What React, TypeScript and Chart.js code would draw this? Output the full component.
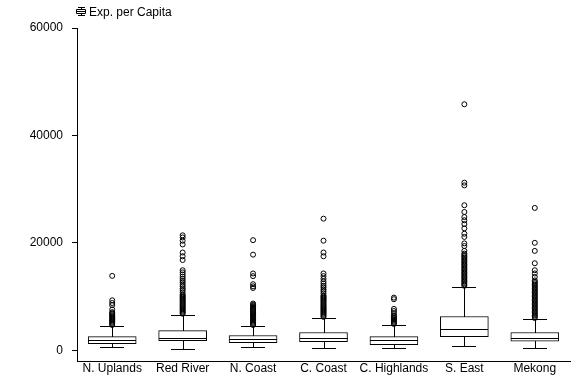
import React, { useEffect, useRef } from 'react';
import { Chart, registerables } from 'chart.js';
Chart.register(...registerables);

const categories = ['N. Uplands', 'Red River', 'N. Coast', 'C. Coast', 'C. Highlands', 'S. East', 'Mekong'];
const whiskerLow = [560, 300, 560, 370, 370, 745, 370];
const q1 = [1240, 1800, 1430, 1610, 1060, 2550, 1680];
const median = [1860, 2360, 2180, 2240, 1990, 4040, 2240];
const q3 = [2550, 3670, 2740, 3300, 2550, 6280, 3300];
const whiskerHigh = [4600, 6650, 4600, 6090, 4780, 11870, 5900];

const outNUplands = [4700, 4900, 5100, 5300, 5500, 5700, 5900, 6100, 6300, 6500, 6700, 6900, 7100, 7600, 8400, 8800, 9300, 13850];
const outRedRiver = [6800, 7000, 7200, 7400, 7600, 7800, 8000, 8200, 8400, 8600, 8800, 9000, 9200, 9400, 9600, 9800, 10000, 10200, 10400, 10800, 11200, 11500, 11900, 12200, 12600, 12900, 13300, 13700, 14100, 14500, 14900, 16800, 17500, 18200, 19700, 20400, 21000, 21400];
const outNCoast = [4700, 4900, 5100, 5300, 5500, 5700, 5900, 6100, 6300, 6500, 6700, 6900, 7100, 7300, 7500, 7700, 7900, 8100, 8300, 8500, 8700, 11600, 11900, 12300, 13800, 14300, 17800, 20500];
const outCCoast = [6200, 6400, 6600, 6800, 7000, 7200, 7400, 7600, 7800, 8000, 8200, 8400, 8600, 8800, 9000, 9200, 9400, 9600, 9800, 10000, 10200, 10600, 11000, 11300, 11700, 12000, 12400, 12800, 13300, 13800, 14300, 17500, 18200, 20400, 24500];
const outCHighlands = [4900, 5100, 5300, 5500, 5700, 5900, 6100, 6300, 6500, 6900, 7300, 7700, 9500, 9800];
const outSEast = [12000, 12250, 12500, 12750, 13000, 13250, 13500, 13750, 14000, 14250, 14500, 14750, 15000, 15250, 15500, 15750, 16000, 16250, 16500, 16750, 17000, 17250, 17500, 17750, 18000, 18500, 19400, 19900, 21100, 21700, 22700, 23500, 24200, 24800, 25750, 27000, 30700, 31200, 45800];
const outMekong = [6000, 6250, 6500, 6750, 7000, 7250, 7500, 7750, 8000, 8250, 8500, 8750, 9000, 9250, 9500, 9750, 10000, 10250, 10500, 10750, 11000, 11250, 11500, 11750, 12000, 12250, 12500, 12750, 13000, 13650, 14300, 14900, 16200, 18500, 20000, 26500];
const outliers = [outNUplands, outRedRiver, outNCoast, outCCoast, outCHighlands, outSEast, outMekong];

const yTicks = [0, 20000, 40000, 60000];
const legendLabel = 'Exp. per Capita';

const FONT = "'Liberation Sans', Arial, sans-serif";

const boxPlugin = {
  id: 'boxExtras',
  afterDatasetsDraw(chart: any) {
    const ctx = chart.ctx;
    const xs = chart.scales.x;
    const ys = chart.scales.y;
    const al = (v: number) => Math.round(v) + 0.5;
    ctx.save();
    ctx.strokeStyle = '#000';
    ctx.lineWidth = 1;
    const half = 24;
    const capHalf = 12;
    categories.forEach((_, i) => {
      const cx = Math.round(xs.getPixelForValue(i));
      const yMed = al(ys.getPixelForValue(median[i]));
      const yLo = al(ys.getPixelForValue(whiskerLow[i]));
      const yHi = al(ys.getPixelForValue(whiskerHigh[i]));
      const yQ1 = ys.getPixelForValue(q1[i]);
      const yQ3 = ys.getPixelForValue(q3[i]);
      ctx.beginPath();
      ctx.moveTo(cx - half, yMed);
      ctx.lineTo(cx + half, yMed);
      ctx.moveTo(cx + 0.5, Math.round(yQ3));
      ctx.lineTo(cx + 0.5, yHi);
      ctx.moveTo(cx + 0.5, Math.round(yQ1));
      ctx.lineTo(cx + 0.5, yLo);
      ctx.moveTo(cx - capHalf, yHi);
      ctx.lineTo(cx + capHalf, yHi);
      ctx.moveTo(cx - capHalf, yLo);
      ctx.lineTo(cx + capHalf, yLo);
      ctx.stroke();
    });
    ctx.restore();
  },
  afterDraw(chart: any) {
    const ctx = chart.ctx;
    ctx.save();
    ctx.strokeStyle = '#000';
    ctx.lineWidth = 1;
    ctx.beginPath();
    ctx.moveTo(78, 7.5); ctx.lineTo(85, 7.5);
    ctx.moveTo(81.5, 7.5); ctx.lineTo(81.5, 9.5);
    ctx.rect(76.5, 9.5, 9, 4);
    ctx.moveTo(76.5, 11.5); ctx.lineTo(85.5, 11.5);
    ctx.moveTo(81.5, 13.5); ctx.lineTo(81.5, 15.5);
    ctx.moveTo(78, 15.5); ctx.lineTo(85, 15.5);
    ctx.stroke();
    ctx.fillStyle = '#000';
    ctx.font = `12px ${FONT}`;
    ctx.textBaseline = 'alphabetic';
    ctx.textAlign = 'left';
    ctx.fillText(legendLabel, 89, 16);
    ctx.restore();
  },
};

export default function App() {
  const ref = useRef<HTMLCanvasElement | null>(null);
  useEffect(() => {
    if (!ref.current) return;
    const outlierData: any[] = [];
    outliers.forEach((arr, i) => arr.forEach((v) => outlierData.push({ x: categories[i], y: v })));
    const chart = new Chart(ref.current, {
      type: 'bar',
      data: {
        labels: categories,
        datasets: [
          {
            type: 'bar',
            label: legendLabel,
            data: categories.map((_, i) => [q1[i], q3[i]]) as any,
            backgroundColor: '#fff',
            borderColor: '#000',
            borderWidth: 1,
            borderSkipped: false,
            barThickness: 48,
          } as any,
          {
            type: 'line',
            label: 'outliers',
            data: outlierData,
            showLine: false,
            pointStyle: 'circle',
            pointRadius: 2.5,
            pointBorderWidth: 1,
            pointBorderColor: '#000',
            pointBackgroundColor: 'rgba(255,255,255,0)',
          } as any,
        ],
      },
      options: {
        animation: false,
        responsive: false,
        layout: { padding: { top: 28, right: 6, left: 0, bottom: 0 } },
        plugins: { legend: { display: false }, tooltip: { enabled: false } },
        scales: {
          x: {
            type: 'category',
            offset: true,
            grid: { display: false, drawTicks: false },
            border: { display: true, color: '#000', width: 1 },
            ticks: { color: '#000', font: { family: FONT, size: 12 }, padding: 0, maxRotation: 0, autoSkip: false },
            afterFit: (s: any) => { s.height = 24; },
          },
          y: {
            type: 'linear',
            min: -2000,
            max: 60000,
            afterBuildTicks: (s: any) => { s.ticks = yTicks.map((v) => ({ value: v })); },
            grid: { display: true, drawOnChartArea: false, drawTicks: true, tickLength: 5, color: '#000' },
            border: { display: true, color: '#000', width: 1 },
            ticks: { color: '#000', font: { family: FONT, size: 12 }, padding: 9, callback: (v: any) => String(v) },
            afterFit: (s: any) => { s.width = 77; },
          },
        },
      } as any,
      plugins: [boxPlugin],
    });
    return () => chart.destroy();
  }, []);
  return (
    <div style={{ position: 'fixed', left: 0, top: 0, width: 576, height: 385, background: '#fff' }}>
      <canvas ref={ref} width={576} height={385} />
    </div>
  );
}
